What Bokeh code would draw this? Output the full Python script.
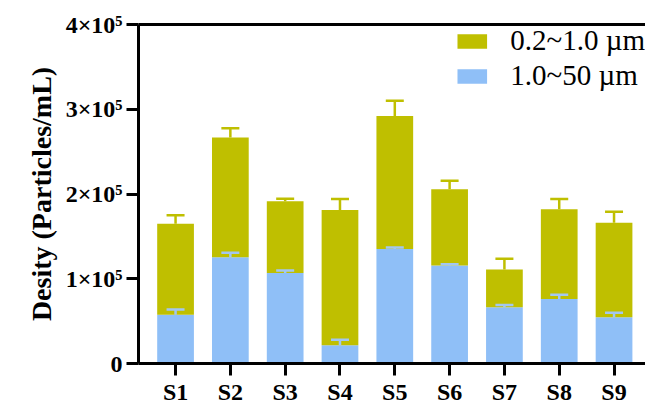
from bokeh.plotting import figure
from bokeh.models import (ColumnDataSource, Range1d, FixedTicker, LinearAxis, Whisker,
                          TeeHead, Legend, LegendItem)
from bokeh.embed import file_html
from bokeh.resources import INLINE

# ---- data ----
samples = ["S1", "S2", "S3", "S4", "S5", "S6", "S7", "S8", "S9"]
large_1_50 = [57600, 125500, 106700, 21600, 135000, 115700, 66300, 76000, 54500]      # 1.0~50 µm
large_err = [6000, 5100, 3000, 6400, 2000, 1500, 2800, 5000, 5500]
total = [165000, 266700, 191400, 181000, 292000, 205500, 111000, 182000, 166000]       # stacked top
total_err = [10000, 11000, 3100, 13000, 18000, 10200, 12500, 12000, 13000]
y_ticks = [0, 100000, 200000, 300000, 400000]
y_tick_labels = ["0", "1×10⁵", "2×10⁵", "3×10⁵", "4×10⁵"]
legend_labels = ["0.2~1.0 µm", "1.0~50 µm"]

OLIVE = "#bfbf00"
BLUE = "#8fbff7"
BLUE_ERR = "#a3c7f0"
FONT = "Liberation Serif"

xs = [i + 1 for i in range(len(samples))]
src = ColumnDataSource(dict(
    x=xs,
    blue=large_1_50,
    blue_up=[b + e for b, e in zip(large_1_50, large_err)],
    total=total,
    total_up=[t + e for t, e in zip(total, total_err)],
))

p = figure(width=645, height=407, output_backend="svg", toolbar_location=None,
           x_range=Range1d(0.324, 9.574), y_range=Range1d(0, 400000),
           min_border_left=138, min_border_right=0, min_border_top=24, min_border_bottom=30)
p.outline_line_color = None
p.grid.visible = False
p.background_fill_color = "white"

r_blue = p.vbar(x="x", top="blue", bottom=0, width=0.67, source=src,
                fill_color=BLUE, line_color=None)
r_olive = p.vbar(x="x", top="total", bottom="blue", width=0.67, source=src,
                 fill_color=OLIVE, line_color=None)

w1 = Whisker(base="x", lower="total", upper="total_up", source=src, dimension="height",
             line_color=OLIVE, line_width=2.5, lower_head=None,
             upper_head=TeeHead(size=18, line_color=OLIVE, line_width=2.5), level="annotation")
w2 = Whisker(base="x", lower="blue", upper="blue_up", source=src, dimension="height",
             line_color=BLUE_ERR, line_width=2.5, lower_head=None,
             upper_head=TeeHead(size=18, line_color=BLUE_ERR, line_width=2.5), level="annotation")
p.add_layout(w1)
p.add_layout(w2)

# axes
for ax in (p.xaxis[0], p.yaxis[0]):
    ax.axis_line_width = 3
    ax.axis_line_color = "black"
    ax.major_tick_line_width = 3
    ax.major_tick_line_color = "black"
    ax.major_tick_out = 12
    ax.major_tick_in = 0
    ax.minor_tick_out = 0
    ax.minor_tick_in = 0
    ax.major_label_text_font = FONT
    ax.major_label_text_font_style = "bold"
    ax.major_label_text_color = "black"

p.xaxis.ticker = FixedTicker(ticks=xs)
p.xaxis.major_label_overrides = {x: s for x, s in zip(xs, samples)}
p.xaxis.major_label_text_font_size = "24px"
p.xaxis.major_label_standoff = 3

p.yaxis.ticker = FixedTicker(ticks=y_ticks)
p.yaxis.major_label_overrides = {t: l for t, l in zip(y_ticks, y_tick_labels)}
p.yaxis.major_label_text_font_size = "24px"
p.yaxis.major_label_standoff = 4
p.yaxis.axis_label = "Desity (Particles/mL)"
p.yaxis.axis_label_text_font = FONT
p.yaxis.axis_label_text_font_style = "bold"
p.yaxis.axis_label_text_font_size = "28px"
p.yaxis.axis_label_text_color = "black"
p.yaxis.axis_label_standoff = 6

top_ax = LinearAxis(ticker=FixedTicker(ticks=[]), major_label_text_font_size="0px",
                    axis_line_width=3, axis_line_color="black",
                    major_tick_out=0, major_tick_in=0, minor_tick_out=0, minor_tick_in=0)
p.add_layout(top_ax, "above")

legend = Legend(items=[LegendItem(label=legend_labels[0], renderers=[r_olive]),
                       LegendItem(label=legend_labels[1], renderers=[r_blue])],
                location="top_right")
legend.border_line_color = None
legend.background_fill_alpha = 0
legend.label_text_font = FONT
legend.label_text_font_size = "29px"
legend.label_text_color = "black"
legend.glyph_width = 37
legend.glyph_height = 18
legend.label_standoff = 20
legend.spacing = 2
legend.padding = 4
legend.margin = 0
p.add_layout(legend)

open("out.html", "w").write(file_html(p, INLINE))
